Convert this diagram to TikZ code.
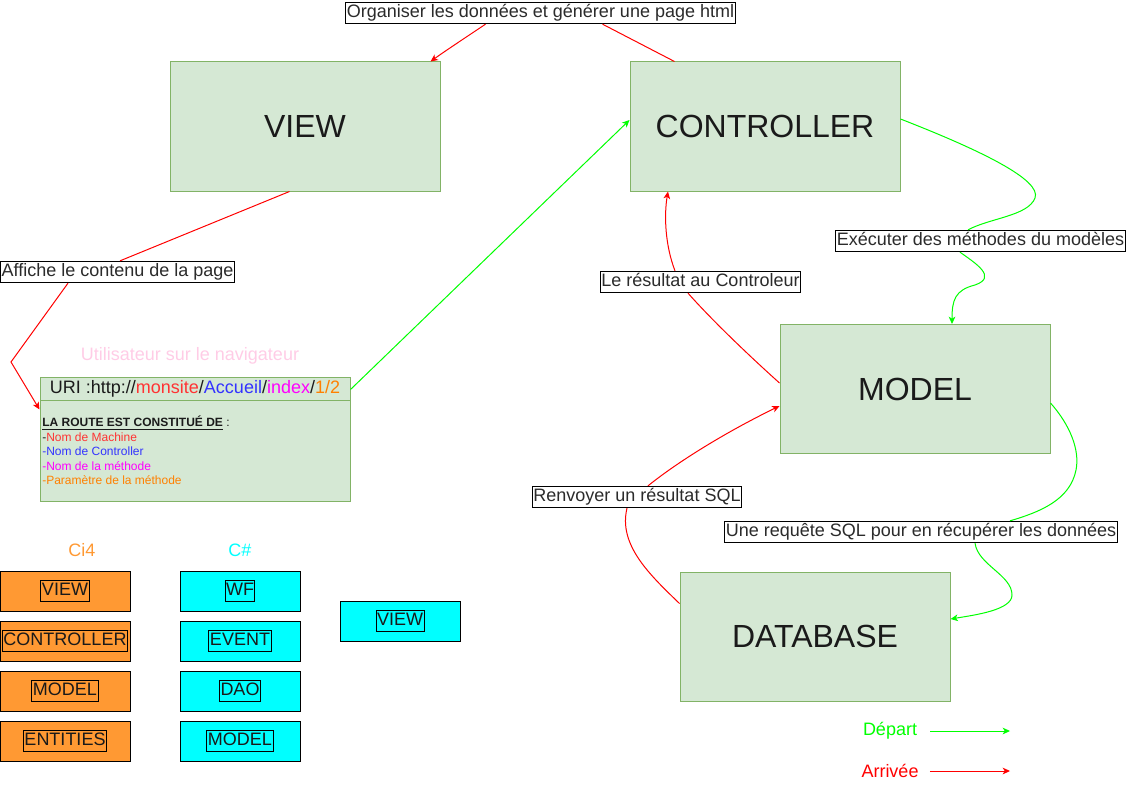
\documentclass[tikz,border=0pt]{standalone}
\usepackage{fontspec}
\setmainfont{Liberation Sans}
\usetikzlibrary{arrows.meta,calc}
\definecolor{gfill}{HTML}{D5E8D4}
\definecolor{gdraw}{HTML}{82B366}
\definecolor{lgreen}{HTML}{00FF00}
\definecolor{lred}{HTML}{FF0000}
\definecolor{ci}{HTML}{FF9933}
\definecolor{cy}{HTML}{00FFFF}
\definecolor{pinkt}{HTML}{FFCCE6}
\definecolor{tred}{HTML}{FF3333}
\definecolor{tblue}{HTML}{3333FF}
\definecolor{tmag}{HTML}{FF00FF}
\definecolor{tora}{HTML}{FF8000}
\definecolor{txt}{HTML}{1A1A1A}
\definecolor{ltxt}{HTML}{2B2B2B}
\tikzset{
 bigbox/.style={draw=gdraw, fill=gfill, line width=0.75pt, minimum width=202.5pt, minimum height=96.75pt, inner sep=0pt, font=\fontsize{24}{28}\selectfont, text=txt},
 elabel/.style={draw=black, fill=white, line width=0.75pt, font=\fontsize{13.5}{16}\selectfont, text=ltxt, inner xsep=1pt, inner ysep=1.5pt, text height=10pt, text depth=3pt},
 smallbox/.style={draw=black, line width=0.75pt, minimum height=30pt, inner sep=0pt},
 tagtext/.style={draw=black, line width=0.75pt, inner xsep=0.75pt, inner ysep=1.5pt, font=\fontsize{13.5}{16}\selectfont, text height=10pt, text depth=3pt, text=txt},
 plain18/.style={font=\fontsize{13.5}{16}\selectfont, inner sep=0pt},
 gedge/.style={draw=lgreen, line width=0.75pt},
 redge/.style={draw=lred, line width=0.75pt},
 tip/.style={-{Stealth[length=5.5pt,width=5pt,inset=1.5pt]}},
}
\begin{document}
\begin{tikzpicture}[x=0.75pt,y=-0.75pt]
\useasboundingbox (0,0) rectangle (1126,792);
% main boxes
\node[bigbox] (view) at (305,126.5) {VIEW};
\node[bigbox] (ctrl) at (765,126.5) {CONTROLLER};
\node[bigbox] (model) at (915,389) {MODEL};
\node[bigbox] (db) at (815,636.5) {DATABASE};
% URI swimlane
\node[draw=gdraw, fill=gfill, line width=0.75pt, minimum width=232.5pt, minimum height=93pt, inner sep=0pt] (uri) at (195,439) {};
\draw[draw=gdraw, line width=0.75pt] ($(uri.north west)+(0,24)$) -- ($(uri.north east)+(0,24)$);
\node[plain18, text=txt] (urit) at (195,389) {URI :http://\textcolor{tred}{monsite}/\textcolor{tblue}{Accueil}/\textcolor{tmag}{index}/\textcolor{tora}{1/2}};
\node[anchor=north west, inner sep=0pt, align=left, font=\fontsize{9}{10.8}\selectfont, text=txt] (body) at (42,416)
 {\underline{\textbf{LA ROUTE EST CONSTITUÉ DE}} :\\
  -\textcolor{tred}{Nom de Machine}\\
  \textcolor{tblue}{-Nom de Controller}\\
  \textcolor{tmag}{-Nom de la méthode}\\
  \textcolor{tora}{-Paramètre de la méthode}};
\node[plain18, text=pinkt] (user) at (190,356) {Utilisateur sur le navigateur};
% edge labels
\node[elabel] (lblA) at (540.5,13) {Organiser les données et générer une page html};
\node[elabel] (lblB) at (117.5,272) {Affiche le contenu de la page};
\node[elabel] (lblC) at (980.5,241) {Exécuter des méthodes du modèles};
\node[elabel] (lblD) at (700.5,282) {Le résultat au Controleur};
\node[elabel] (lblE) at (637,497) {Renvoyer un résultat SQL};
\node[elabel] (lblF) at (921,532) {Une requête SQL pour en récupérer les données};
% edges
\draw[redge] ($(ctrl.north west)+(45,0)$) -- ($(lblA.south)+(62,0)$);
\draw[redge,tip] ($(lblA.south)+(-55,0)$) .. controls (468,36) and (448,49) .. ($(view.north east)+(-10,0)$);
\draw[redge] ($(view.south west)+(120,0)$) -- ($(lblB.north)+(2.5,0)$);
\draw[redge,tip] ($(lblB.south)+(-49.5,0)$) -- (11,362) -- ($(uri.north west)+(0,33)$);
\draw[gedge,tip] ($(uri.north east)+(0,13)$) -- ($(ctrl.west)+(0,-6.5)$);
\draw[gedge] ($(ctrl.east)+(0,-7.5)$) .. controls (980,150) and (1042,180) .. (1035,198) .. controls (1028,216) and (990,218) .. ($(lblC.north)+(-12.5,0)$);
\draw[gedge,tip] ($(lblC.south)+(-20.5,0)$) .. controls (975,263) and (998,277) .. (975,285) .. controls (955,290) and (952,300) .. ($(model.north)+(37,0)$);
\draw[redge] ($(model.west)+(0,-6)$) .. controls (745,352) and (710,318) .. ($(lblD.south)+(-12.5,0)$);
\draw[redge,tip] ($(lblD.north)+(-25.5,0)$) .. controls (665,245) and (664,215) .. ($(ctrl.south)+(-97,0)$);
\draw[redge] ($(db.north west)+(0,32)$) .. controls (650,575) and (618,545) .. ($(lblE.south)+(-10,0)$);
\draw[redge,tip] ($(lblE.north)+(11,0)$) .. controls (680,460) and (730,430) .. ($(model.west)+(0,17)$);
\draw[gedge] ($(model.east)+(0,14)$) .. controls (1070,425) and (1080,450) .. (1076,470) .. controls (1070,500) and (1040,512) .. ($(lblF.north)+(89,0)$);
\draw[gedge,tip] ($(lblF.south)+(54,0)$) .. controls (978,565) and (1012,575) .. (1012,595) .. controls (1012,610) and (975,615) .. ($(db.east)+(0,-17.5)$);
% Ci4 column
\node[plain18, text=ci] (ci4) at (82,550) {Ci4};
\foreach \n/\y/\t in {a/591/VIEW,b/641/CONTROLLER,c/691/MODEL,d/741/ENTITIES}{
  \node[smallbox, fill=ci, minimum width=97.5pt] (ci\n) at (65,\y) {};
  \node[tagtext] (ci\n t) at (ci\n) {\t};
}
% C# column
\node[plain18, text=cy] (cs) at (240,550) {C\#};
\foreach \n/\y/\t in {a/591/WF,b/641/EVENT,c/691/DAO,d/741/MODEL}{
  \node[smallbox, fill=cy, minimum width=90pt] (cs\n) at (240,\y) {};
  \node[tagtext] (cs\n t) at (cs\n) {\t};
}
\node[smallbox, fill=cy, minimum width=90pt] (xview) at (400,621) {};
\node[tagtext] (xviewt) at (xview) {VIEW};
% legend
\node[plain18, text=lgreen] (dep) at (890,731) {Départ};
\node[plain18, text=lred] (arr) at (890,771) {Arrivée};
\coordinate (depEnd) at (1010,731);
\coordinate (arrEnd) at (1010,771);
\draw[gedge,tip] ($(dep.east)+(13,0)$) -- (depEnd);
\draw[redge,tip] ($(arr.east)+(11,0)$) -- (arrEnd);
\end{tikzpicture}
\end{document}
